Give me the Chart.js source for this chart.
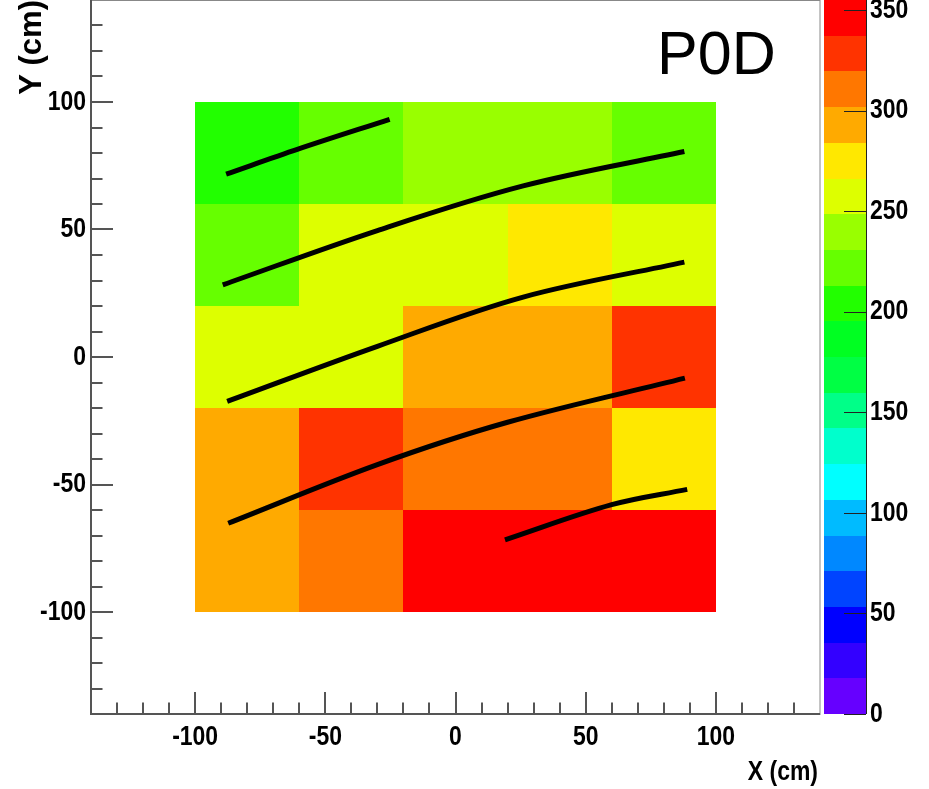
<!DOCTYPE html>
<html>
<head>
<meta charset="utf-8">
<title>P0D</title>
<script src="https://cdn.jsdelivr.net/npm/chart.js@4"></script>
<style>
  html, body { margin: 0; padding: 0; background: #fff; }
  canvas { display: block; }
</style>
</head>
<body>
<canvas id="p0dChart" width="929" height="789"></canvas>
<script>
// bin edges (cm)
const xEdges = [-100, -60, -20, 20, 60, 100];
const yEdges = [-100, -60, -20, 20, 60, 100];

// bin contents, top row (y 60..100) first, left to right
const counts = [
    [205, 222, 240, 238, 226],
    [220, 258, 255, 276, 262],
    [257, 260, 292, 295, 330],
    [290, 327, 310, 312, 278],
    [297, 308, 345, 350, 355]
];

// track points [x, y] in cm
const track1 = [[-88.1, 71.7], [-60.5, 81.5], [-25.3, 93.2]];
const track2 = [[-89.4, 28.3], [-30, 49.6], [26, 67.1], [87.9, 80.6]];
const track3 = [[-87.7, -17.4], [-30, 4.2], [26, 23.5], [87.9, 37.2]];
const track4 = [[-87.3, -65.2], [-30, -42.2], [20, -25.6], [88.1, -8.3]];
const track5 = [[19, -71.7], [60, -57.9], [89, -51.9]];
const tracks = [track1, track2, track3, track4, track5];

// axis ticks
const xTicks = [-100, -50, 0, 50, 100];
const yTicks = [-100, -50, 0, 50, 100];
const zTicks = [0, 50, 100, 150, 200, 250, 300, 350];
const zMax = 355;

// 20 contour colours, low to high
const palette = [
    '#6600ff', '#3300ff', '#0000ff', '#0044ff', '#0088ff',
    '#00bbff', '#00ffff', '#00ffcc', '#00ff88', '#00ff44',
    '#00ff22', '#22ff00', '#66ff00', '#99ff00', '#ddff00',
    '#ffe800', '#ffaa00', '#ff7700', '#ff3300', '#ff0000'
];

// condensed bold text, like the ROOT axis labels
function narrowText(ctx, text, x, y, align, baseline) {
    ctx.save();
    ctx.translate(x, y);
    ctx.scale(0.82, 1);
    ctx.font = 'bold 28px "Liberation Sans", Arial, sans-serif';
    ctx.fillStyle = '#000';
    ctx.textAlign = align;
    ctx.textBaseline = baseline;
    ctx.fillText(text, 0, 0);
    ctx.restore();
}

const setTicks = values => scale => { scale.ticks = values.map(v => ({ value: v })); };

const histPlugin = {
    id: 'hist2d',
    beforeDatasetsDraw(chart) {
        const { ctx, scales: { x, y } } = chart;
        ctx.save();
        counts.forEach((row, r) => {
            const yHi = yEdges[yEdges.length - 1 - r];
            const yLo = yEdges[yEdges.length - 2 - r];
            row.forEach((v, c) => {
                const level = Math.min(palette.length - 1, Math.floor(v / zMax * palette.length));
                const x0 = Math.round(x.getPixelForValue(xEdges[c]));
                const x1 = Math.round(x.getPixelForValue(xEdges[c + 1]));
                const y0 = Math.round(y.getPixelForValue(yHi));
                const y1 = Math.round(y.getPixelForValue(yLo));
                ctx.fillStyle = palette[level];
                ctx.fillRect(x0, y0, x1 - x0, y1 - y0);
            });
        });
        ctx.restore();
    }
};

const framePlugin = {
    id: 'frame',
    afterDatasetsDraw(chart) {
        const { ctx, chartArea: a, scales: { x, y, z } } = chart;
        ctx.save();

        // frame
        ctx.strokeStyle = '#888';
        ctx.lineWidth = 1;
        ctx.strokeRect(a.left + 0.5, a.top + 0.5, a.right - a.left - 0.5, a.bottom - a.top);

        // left and bottom axes with inward ticks
        ctx.strokeStyle = '#555';
        ctx.lineWidth = 2;
        ctx.beginPath();
        ctx.moveTo(a.left, a.top);
        ctx.lineTo(a.left, a.bottom);
        ctx.lineTo(a.right, a.bottom);
        for (let v = -130; v <= 130; v += 10) {
            const len = v % 50 === 0 ? 22 : 11.5;
            const px = Math.round(x.getPixelForValue(v));
            ctx.moveTo(px, a.bottom);
            ctx.lineTo(px, a.bottom - len);
            const py = Math.round(y.getPixelForValue(v));
            ctx.moveTo(a.left, py);
            ctx.lineTo(a.left + len, py);
        }
        ctx.stroke();

        // tick labels and x title
        x.ticks.forEach(t => narrowText(ctx, String(t.value), x.getPixelForValue(t.value), a.bottom + 31, 'center', 'alphabetic'));
        y.ticks.forEach(t => narrowText(ctx, String(t.value), a.left - 5, y.getPixelForValue(t.value), 'right', 'middle'));
        narrowText(ctx, 'X (cm)', a.right - 2, a.bottom + 66, 'right', 'alphabetic');

        // colour scale
        const cx0 = z.left + 4, cx1 = z.left + 46;
        palette.forEach((col, k) => {
            const top = Math.round(z.getPixelForValue((k + 1) * zMax / palette.length));
            const bot = Math.round(z.getPixelForValue(k * zMax / palette.length));
            ctx.fillStyle = col;
            ctx.fillRect(cx0, top, cx1 - cx0, bot - top);
        });
        ctx.strokeStyle = '#222';
        ctx.lineWidth = 1;
        ctx.beginPath();
        ctx.moveTo(cx1 + 0.5, z.top);
        ctx.lineTo(cx1 + 0.5, z.bottom);
        z.ticks.forEach(t => {
            const py = Math.round(z.getPixelForValue(t.value)) + 0.5;
            ctx.moveTo(cx1, py);
            ctx.lineTo(cx1 - 22, py);
        });
        ctx.stroke();
        z.ticks.forEach(t => narrowText(ctx, String(t.value), cx1 + 4, z.getPixelForValue(t.value), 'left', 'middle'));

        // detector label
        ctx.fillStyle = '#000';
        ctx.font = '61px "Liberation Sans", Arial, sans-serif';
        ctx.textAlign = 'left';
        ctx.textBaseline = 'alphabetic';
        ctx.fillText('P0D', x.getPixelForValue(77.4), y.getPixelForValue(111));
        ctx.restore();
    }
};

new Chart(document.getElementById('p0dChart'), {
    type: 'line',
    data: {
        datasets: tracks.map((t, i) => ({
            label: 'track ' + (i + 1),
            data: t.map(p => ({ x: p[0], y: p[1] })),
            borderColor: '#000',
            borderWidth: 5,
            borderCapStyle: 'butt',
            pointRadius: 0,
            tension: 0.35,
            fill: false
        }))
    },
    options: {
        responsive: false,
        devicePixelRatio: 1,
        animation: false,
        layout: { padding: 0 },
        plugins: {
            legend: { display: false },
            tooltip: { enabled: false }
        },
        scales: {
            x: {
                type: 'linear',
                position: 'bottom',
                min: -140,
                max: 140,
                grid: { display: false, drawTicks: false },
                border: { display: false },
                afterBuildTicks: setTicks(xTicks),
                ticks: { display: false },
                afterFit: s => { s.height = 75; s.paddingLeft = 0; s.paddingRight = 0; }
            },
            y: {
                type: 'linear',
                position: 'left',
                min: -140,
                max: 140,
                grid: { display: false, drawTicks: false },
                border: { display: false },
                afterBuildTicks: setTicks(yTicks),
                ticks: { display: false },
                title: {
                    display: true,
                    text: 'Y (cm)',
                    align: 'end',
                    color: '#000',
                    font: { family: '"Liberation Sans", Arial', size: 31, weight: 'bold' },
                    padding: { top: 14, bottom: 0 }
                },
                afterFit: s => { s.width = 91; s.paddingTop = 0; s.paddingBottom = 0; }
            },
            z: {
                type: 'linear',
                position: 'right',
                min: 0,
                max: zMax,
                grid: { display: false, drawTicks: false },
                border: { display: false },
                afterBuildTicks: setTicks(zTicks),
                ticks: { display: false },
                afterFit: s => { s.width = 109; s.paddingTop = 0; s.paddingBottom = 0; }
            }
        }
    },
    plugins: [histPlugin, framePlugin]
});
</script>
</body>
</html>
